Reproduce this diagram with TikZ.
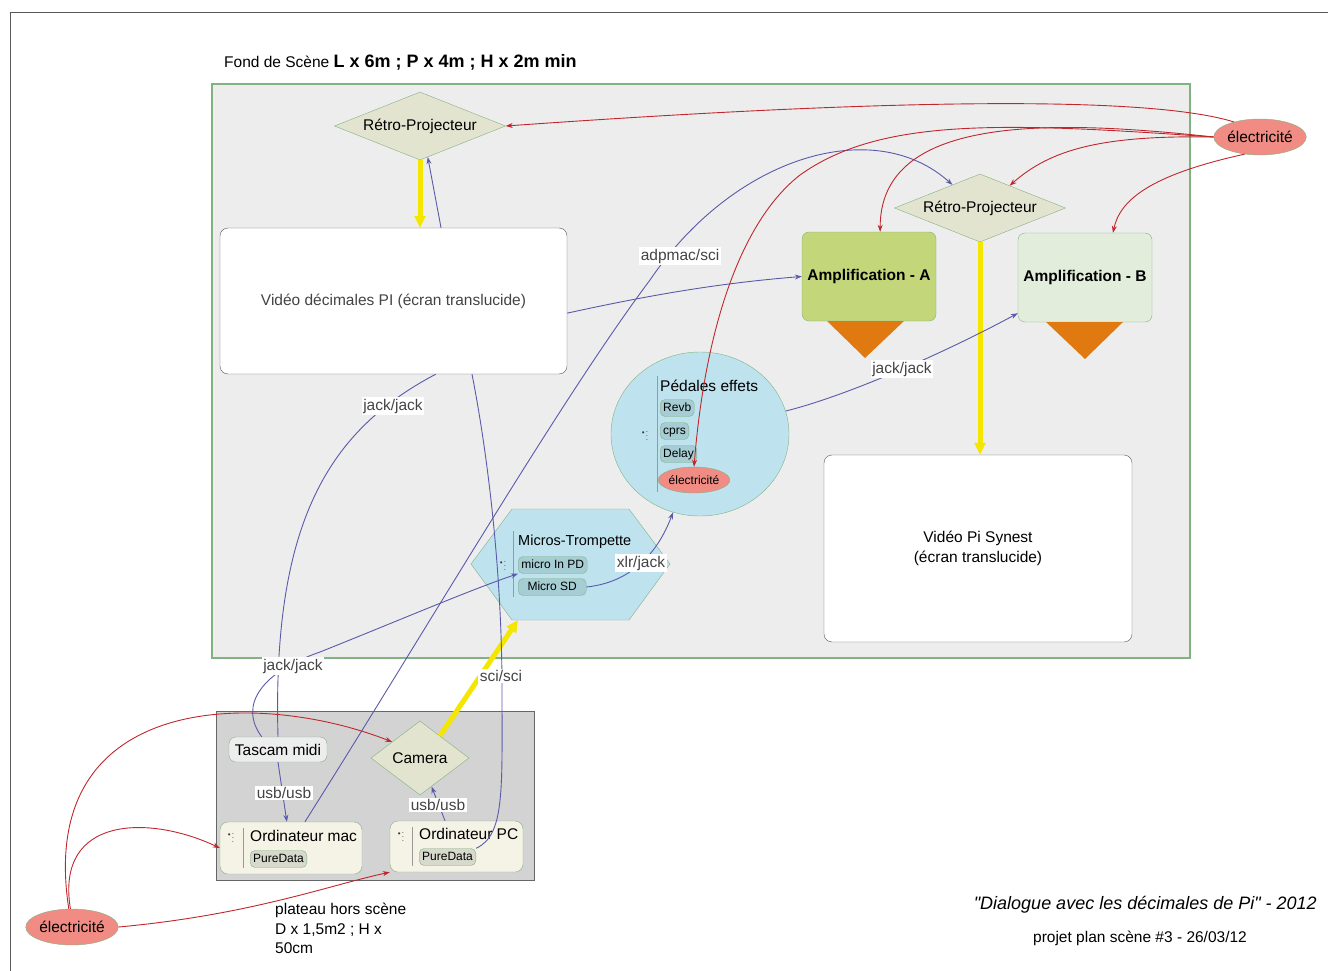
\documentclass[tikz,border=0pt]{standalone}
\usepackage{fontspec}
\setmainfont{Liberation Sans}
\usetikzlibrary{shapes.geometric,arrows.meta}
\definecolor{stagefill}{HTML}{EDEDED}
\definecolor{offfill}{HTML}{D3D3D3}
\definecolor{nodegreen}{HTML}{82B282}
\definecolor{khaki}{HTML}{E3E4D0}
\definecolor{amplAfill}{HTML}{C3D67A}
\definecolor{amplBfill}{HTML}{E2EDDC}
\definecolor{speaker}{HTML}{E07A10}
\definecolor{tealfill}{HTML}{BEE3EE}
\definecolor{subteal}{HTML}{A6CDD4}
\definecolor{salmon}{HTML}{F08C84}
\definecolor{cream}{HTML}{F4F3E6}
\definecolor{pdfill}{HTML}{D7D9CD}
\definecolor{wireblue}{HTML}{5A5AAA}
\definecolor{powerred}{HTML}{C0272D}
\definecolor{beamyellow}{HTML}{F5E600}
\definecolor{labelgray}{HTML}{444444}

\tikzset{
  frame/.style={draw=black!65, line width=0.8},
  stage/.style={fill=stagefill, draw=nodegreen, line width=1.2},
  offstage/.style={fill=offfill, draw=black!60, line width=1},
  projector/.style={diamond, draw=nodegreen, fill=khaki, inner sep=0, aspect=2.5,
    minimum width=171, minimum height=68, font=\fontsize{15.5}{18}\selectfont},
  screen/.style={rectangle, draw=black!65, fill=white, rounded corners=8,
    font=\fontsize{15.5}{20}\selectfont},
  ampli/.style={rectangle, draw=nodegreen, rounded corners=7, minimum width=134,
    minimum height=89, font=\bfseries\fontsize{15.5}{18}\selectfont},
  powersrc/.style={ellipse, draw=nodegreen, fill=salmon, inner sep=0,
    minimum width=90, minimum height=36, font=\fontsize{15.5}{18}\selectfont},
  subitem/.style={rectangle, draw=nodegreen, fill=subteal, rounded corners=5,
    inner xsep=3, inner ysep=2.5, text height=9, text depth=3, anchor=west,
    font=\fontsize{12}{14}\selectfont},
  pdbox/.style={subitem, fill=pdfill},
  computer/.style={rectangle, draw=nodegreen, fill=cream, rounded corners=8},
  sep/.style={draw=black!40, line width=1},
  icon/.style={text=black!75, inner sep=0, font=\fontsize{8}{8}\selectfont},
  title/.style={anchor=west, inner sep=0, font=\fontsize{15.5}{18}\selectfont},
  wire/.style={draw=wireblue, line width=0.9, -{Stealth[length=7,width=5]}},
  plainwire/.style={draw=wireblue, line width=0.9},
  power/.style={draw=powerred, line width=0.9, -{Stealth[length=7,width=5]}},
  beam/.style={draw=beamyellow, line width=5, -{Triangle[length=12,width=11]}},
  cablelbl/.style={fill=white, inner sep=1.5, text=labelgray,
    font=\fontsize{15.5}{18}\selectfont},
}
\newcommand\listicon{\textbullet\,$\vcenter{\hbox{$\vdots$}}$}

\begin{document}
\begin{tikzpicture}[x=1pt,y=-1pt]
\useasboundingbox (0,0) rectangle (1328,971);
\draw[frame] (10,971) -- (10,12) -- (1328,12);

% stage and off-stage areas
\draw[stage] (212,84) rectangle (1190,658);
\draw[offstage] (216,711) rectangle (534,880);
\node[anchor=base west, inner sep=0, font=\fontsize{15.5}{18}\selectfont] (stagetitle) at (224,68)
  {Fond de Scène {\bfseries\fontsize{18}{20}\selectfont L x 6m ; P x 4m ; H x 2m min}};

% projectors and screens
\node[projector] (retro1) at (420,126) {Rétro-Projecteur};
\node[projector] (retro2) at (980,208) {Rétro-Projecteur};
\node[screen, text=labelgray, minimum width=347, minimum height=146] (video) at (393.5,301)
  {Vidéo décimales PI (écran translucide)};
\node[screen, align=center, minimum width=308, minimum height=187] (synest) at (978,548.5)
  {Vidéo Pi Synest\\(écran translucide)};

% amplification
\node[ampli, fill=amplAfill] (amplA) at (869,276.5) {Amplification - A};
\node[ampli, fill=amplBfill] (amplB) at (1085,277.5) {Amplification - B};
\fill[speaker] (827,321) -- (904,321) -- (865,358) -- cycle;
\fill[speaker] (1046,322) -- (1123,322) -- (1085,359) -- cycle;

% pedales
\node[ellipse, draw=nodegreen, fill=tealfill, minimum width=178, minimum height=164] (pedales) at (700,434) {};
\draw[sep] (657,376) -- (657,492);
\node[icon] (pedicon) at (645,433) {\listicon};
\node[title] (pedtitle) at (660,386) {Pédales effets};
\node[subitem] (revb) at (660,408) {Revb};
\node[subitem] (cprs) at (660,431) {cprs};
\node[subitem] (delay) at (660,454) {Delay};
\node[powersrc, minimum width=68, minimum height=26, font=\fontsize{12}{14}\selectfont] (elecP) at (694,480) {électricité};

% micros
\draw[draw=nodegreen, fill=tealfill] (471,564) -- (512,509) -- (629,509) -- (670,564) -- (629,620) -- (512,620) -- cycle;
\coordinate (microsSW) at (518,620);
\draw[sep] (513,531) -- (513,597);
\node[icon] (micicon) at (503,563) {\listicon};
\node[title, font=\fontsize{14.5}{17}\selectfont] (mictitle) at (518,542) {Micros-Trompette};
\node[subitem, minimum width=69] (microin) at (518,565) {micro In PD};
\node[subitem, minimum width=68] (microsd) at (518,587) {Micro SD};

% off-stage gear
\node[rectangle, draw=nodegreen, fill=black!7, rounded corners=7, minimum width=98,
  minimum height=25, inner sep=2, font=\fontsize{15.5}{18}\selectfont] (tascam) at (278,749.5) {Tascam midi};
\node[diamond, draw=nodegreen, fill=khaki, inner sep=0, aspect=1.3, minimum width=98,
  minimum height=74, font=\fontsize{15.5}{18}\selectfont] (camera) at (420,758) {Camera};
\node[computer, minimum width=142, minimum height=52] (mac) at (291,848) {};
\draw[sep] (243,828) -- (243,868);
\node[icon] (macicon) at (231,835) {\listicon};
\node[title] (mactitle) at (250,836) {Ordinateur mac};
\node[pdbox] (macpd) at (250,859) {PureData};
\node[computer, minimum width=133, minimum height=51] (pc) at (456.5,846.5) {};
\draw[sep] (412,827) -- (412,866);
\node[icon] (pcicon) at (401,834) {\listicon};
\node[title] (pctitle) at (419,834) {Ordinateur PC};
\node[pdbox] (pcpd) at (419,857) {PureData};

% power sources
\node[powersrc] (elecR) at (1260,137) {électricité};
\node[powersrc] (elecL) at (72,927) {électricité};

% light beams
\draw[beam] (retro1.south) -- (retro1.south |- video.north);
\draw[beam] (retro2.south) -- (retro2.south |- synest.north);
\draw[beam] (camera.48) -- (microsSW);

% cables
\draw[wire] (video.57.5) -- (retro1.-76);
\draw[wire] (video.-4.6) .. controls (650,295) and (720,283) .. (amplA.west);
\draw[wire] (mac.62) .. controls (420,640) and (560,400) .. (650,280)
  .. controls (735,155) and (875,115) .. (retro2.140);
\draw[plainwire] (tascam.north) .. controls (272,520) and (330,430) .. (video.-60);
\draw[wire] (tascam.142) .. controls (238,705) and (262,672) .. (320,652)
  .. controls (400,620) and (470,590) .. (microin.south west);
\draw[wire] (tascam.south) -- (mac.99);
\draw[wire] (pc.114) -- (camera.-68);
\draw[plainwire] (pcpd.north east) .. controls (505,835) and (502,790) .. (502,690)
  .. controls (502,560) and (485,440) .. (video.-43);
\draw[wire] (microsd.east) .. controls (625,583) and (655,560) .. (pedales.-109);
\draw[wire] (pedales.15) .. controls (850,395) and (950,350) .. (amplB.208);

% power lines
\draw[power] (elecR.150) .. controls (1150,96) and (900,98) .. (retro1.east);
\draw[power] (elecR.west) .. controls (1040,118) and (880,118) .. (amplA.76);
\draw[power] (elecR.west) .. controls (1100,135) and (1050,150) .. (retro2.37);
\draw[power] (elecR.228) .. controls (1150,175) and (1120,200) .. (amplB.58);
\draw[power] (elecR.west) .. controls (1000,122) and (880,118) .. (800,175)
  .. controls (740,222) and (705,330) .. (elecP.north);
\draw[power] (elecL.100) .. controls (35,690) and (260,690) .. (camera.150);
\draw[power] (elecL.95) .. controls (55,815) and (150,815) .. (mac.west);
\draw[power] (elecL.east) .. controls (250,915) and (330,885) .. (pc.south west);

% cable labels
\node[cablelbl] (lbladp) at (680,256) {adpmac/sci};
\node[cablelbl] (lbljack1) at (393,406) {jack/jack};
\node[cablelbl] (lbljack2) at (293,666) {jack/jack};
\node[cablelbl] (lbljack3) at (902,369) {jack/jack};
\node[cablelbl] (lblxlr) at (641,563) {xlr/jack};
\node[cablelbl] (lblusb1) at (284,793) {usb/usb};
\node[cablelbl] (lblusb2) at (438,805) {usb/usb};
\node[cablelbl] (lblsci) at (501,676) {sci/sci};

% notes
\node[anchor=north west, align=left, inner sep=0, font=\fontsize{15.5}{19.5}\selectfont] (plateau) at (275,903)
  {plateau hors scène\\D x 1,5m2 ; H x\\50cm};
\node[anchor=base east, inner sep=0, font=\itshape\fontsize{18}{20}\selectfont] (piece) at (1317,909)
  {\textquotedbl Dialogue avec les décimales de Pi\textquotedbl{} - 2012};
\node[anchor=base, inner sep=0, font=\fontsize{15.5}{18}\selectfont] (projet) at (1140,942)
  {projet plan scène \#3 - 26/03/12};
\end{tikzpicture}
\end{document}
